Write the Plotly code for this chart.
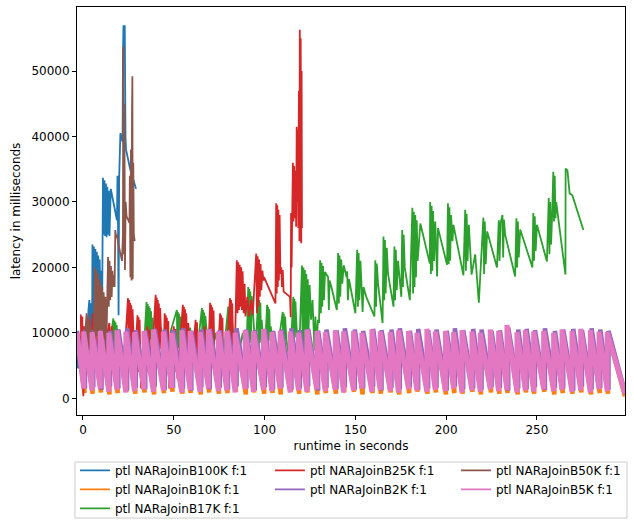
import plotly.graph_objects as go

# ---------------- data ----------------
blue_pts = [(-3.3, 9600), (-3.0, 4600), (-2.6, 9700), (-2.2, 4500), (-1.8, 9500), (-1.4, 4800), (-1.0, 9200),
            (-0.5, 5200), (0.0, 8800), (0.5, 5500), (1.0, 8000), (1.5, 6000), (2.0, 9000), (2.5, 6500),
            (3.0, 13500), (3.5, 15000), (4.0, 10000), (4.5, 14500), (5.0, 9000), (5.2, 23500), (5.6, 10500),
            (6.0, 23200), (6.4, 12000), (6.8, 22800), (7.2, 14000), (7.6, 22400), (8.0, 15000), (8.4, 21800),
            (8.8, 16500), (9.2, 21200), (9.6, 15000), (10.0, 19500), (10.5, 12000), (11.0, 33700), (11.4, 25000),
            (11.8, 33300), (12.2, 24800), (12.6, 32800), (13.0, 24600), (13.4, 32300), (13.8, 25000),
            (14.2, 31700), (14.6, 24800), (15.0, 31200), (15.3, 32000), (18.7, 27200), (19.0, 34000),
            (19.3, 26000), (19.6, 12700), (19.9, 33500), (20.2, 39500), (20.6, 40500), (21.2, 39800),
            (21.8, 39200), (22.0, 52000), (22.3, 57000), (22.7, 53000), (23.0, 57000), (23.4, 40000),
            (23.7, 38000), (26.0, 35000), (29.2, 32000)]

brown_pts = [(-0.5, 6000), (1.0, 9000), (2.0, 13000), (2.5, 7000), (3.0, 12500), (3.5, 7500), (4.0, 11000),
             (5.0, 8000), (6.0, 10000), (6.6, 20000), (7.0, 9000), (7.4, 19500), (7.8, 9500), (8.2, 19000),
             (8.6, 10000), (9.0, 18200), (9.4, 10500), (9.8, 17500), (10.2, 9500), (10.6, 17000), (11.0, 8500),
             (11.4, 16200), (11.8, 9000), (12.3, 15500), (12.8, 7000), (13.3, 14500), (13.8, 21600),
             (14.2, 14000), (14.6, 21000), (15.0, 15000), (15.4, 20200), (15.8, 15500), (16.2, 19500),
             (16.6, 17000), (17.0, 18800), (17.4, 17000), (17.8, 25700), (18.2, 24500), (18.8, 25000),
             (19.5, 23500), (20.5, 22000), (21.5, 21000), (22.0, 25000), (22.2, 53800), (22.5, 22000),
             (22.8, 45000), (23.1, 19600), (23.5, 30000), (24.0, 27800), (25.0, 27200), (25.6, 26800),
             (25.8, 34000), (26.1, 18500), (26.4, 38000), (26.7, 18000), (27.0, 44000), (27.2, 49200),
             (27.4, 18200), (27.7, 36000), (28.0, 25000), (28.5, 24000)]

red_pts = [(-1.2, 12800), (-0.8, 4000), (-0.4, 12500), (0.2, 300), (0.6, 11000), (1.2, 5500), (2.2, 12500),
           (2.8, 6000), (3.4, 12000), (4.4, 5000), (5.2, 13000), (5.8, 6500), (6.4, 12200), (7.6, 5800),
           (8.8, 11800), (10.5, 4500), (12.0, 8000), (14.5, 11500), (15.2, 6000), (15.8, 11000), (17.5, 4300),
           (19.5, 10500), (22.0, 3000),
           (24.8, 15300), (25.1, 6000), (25.4, 15000), (25.7, 6500), (26.0, 14600), (26.3, 7000), (26.6, 14200),
           (26.9, 7500), (27.3, 13600), (28.5, 5000),
           (30.0, 12700), (30.3, 4000), (30.6, 12400), (30.9, 4500), (31.2, 12000), (31.6, 5000), (32.0, 1500),
           (35.5, 11000), (36.0, 4000), (36.5, 10500), (37.5, 3000),
           (40.0, 15800), (40.3, 6000), (40.6, 15400), (40.9, 6500), (41.2, 15000), (41.5, 7000), (41.8, 14500),
           (42.1, 7500), (42.5, 13800), (44.0, 2000),
           (45.0, 13000), (45.3, 5000), (45.6, 12700), (45.9, 5500), (46.2, 12300), (46.6, 6000), (47.0, 11800),
           (47.5, 1500),
           (50.0, 11000), (50.5, 4000), (51.0, 10600), (52.0, 3000),
           (55.0, 14300), (55.3, 6000), (55.6, 14000), (55.9, 6500), (56.2, 13600), (56.5, 7000), (56.9, 13000),
           (57.3, 7500), (58.0, 11500), (59.5, 2000),
           (62.0, 12000), (62.4, 5000), (62.8, 11600), (63.2, 5500), (64.0, 3500),
           (67.0, 11000), (67.5, 4000), (68.5, 2500),
           (70.0, 14600), (70.3, 6000), (70.6, 14300), (70.9, 6500), (71.2, 13900), (71.5, 7000), (71.9, 13400),
           (72.3, 8000), (73.5, 2000),
           (75.5, 13000), (75.8, 5000), (76.1, 12700), (76.4, 5500), (76.8, 12300), (77.2, 6000), (78.0, 3000),
           (81.0, 15300), (81.3, 6000), (81.6, 15000), (81.9, 6500), (82.2, 14500), (82.6, 7000), (83.2, 1500),
           (84.7, 21100), (85.1, 13000), (85.5, 20800), (85.9, 13500), (86.3, 20400), (86.7, 14000),
           (87.1, 20000), (87.5, 13500), (87.9, 19400), (88.5, 13000), (89.0, 17500), (89.5, 12500),
           (90.5, 15500), (91.5, 12500), (92.5, 15000), (93.5, 12800), (95.4, 22100), (95.8, 13000),
           (96.2, 21700), (96.6, 14000), (97.0, 21200), (97.4, 15500), (97.8, 20500), (98.2, 16500),
           (98.8, 19500), (99.4, 18000), (99.7, 18500), (106.0, 14500), (106.4, 29800), (106.7, 16000),
           (107.0, 29500), (107.3, 17000), (107.6, 28800), (107.9, 18000), (108.3, 28000), (108.7, 19000),
           (109.2, 20000), (109.6, 17000), (110.0, 19600), (110.5, 16300), (114.0, 15500), (114.4, 12400),
           (114.6, 28300), (114.9, 20000), (115.2, 27500), (115.6, 36000), (115.9, 27000), (116.3, 35500),
           (116.7, 27500), (117.0, 34800), (117.4, 26200), (117.7, 41500), (118.0, 30000), (118.3, 41000),
           (118.6, 26000), (118.9, 47000), (119.2, 24000), (119.4, 56300), (119.7, 30000), (119.9, 55000),
           (120.2, 23700), (120.4, 50000), (120.6, 26000)]

green_pts = [(-1.0, 6000), (1.0, 10000), (3.0, 5000), (5.5, 10500), (8.0, 5000), (10.5, 11000), (13.5, 5500),
             (16.7, 12200), (17.0, 7000), (17.3, 11900), (17.6, 7500), (17.9, 11600), (18.2, 7800), (18.5, 11200),
             (19.5, 8400), (21.5, 6000), (24.0, 10000), (27.0, 5000), (30.0, 10500), (33.0, 5000),
             (35.0, 14700), (35.3, 8000), (35.6, 14400), (35.9, 8300), (36.2, 14100), (36.5, 8600), (36.8, 13800),
             (37.1, 9000), (37.5, 13300), (37.9, 9300), (38.3, 12300),
             (40.0, 6000), (43.0, 10800), (46.0, 4000), (48.5, 10500),
             (51.7, 13500), (52.0, 7500), (52.3, 13200), (52.6, 7700), (52.9, 12900), (53.2, 8000), (53.5, 12500),
             (53.8, 11500), (56.0, 5000), (59.0, 10800), (62.0, 5000),
             (65.5, 13800), (65.8, 8000), (66.1, 13500), (66.4, 7600), (66.7, 13100), (67.0, 7400), (67.4, 12600),
             (67.8, 11200), (70.0, 5000), (73.0, 10000), (76.5, 4000),
             (80.0, 14000), (80.3, 8000), (80.6, 13700), (80.9, 8300), (81.2, 13300), (81.5, 8500), (81.9, 12800),
             (82.3, 11000), (84.5, 5000), (88.0, 10000), (90.0, 6000),
             (91.0, 17000), (91.3, 8000), (91.6, 16700), (91.9, 8500), (92.2, 16300), (92.5, 9000), (92.9, 15600),
             (93.3, 14500), (95.0, 7000),
             (96.5, 15300), (96.8, 8000), (97.1, 15000), (97.4, 8500), (97.7, 14600), (98.0, 9000), (98.4, 12000),
             (100.0, 6000),
             (101.4, 14300), (101.7, 8500), (102.0, 14000), (102.3, 8800), (102.6, 13600), (103.0, 9500),
             (103.4, 11000), (106.0, 5000),
             (110.0, 13200), (110.3, 8000), (110.6, 12900), (110.9, 8500), (111.3, 12500), (112.0, 9000),
             (114.0, 5000),
             (115.8, 15500), (116.1, 9000), (116.4, 15200), (116.7, 9300), (117.0, 14800), (117.6, 11000),
             (119.0, 6000),
             (120.6, 20300), (121.0, 6500), (121.4, 20000), (121.8, 7000), (122.2, 19600), (122.6, 8000),
             (123.0, 19000), (123.4, 9000), (123.8, 18200), (124.2, 10000), (124.8, 17300), (125.6, 12000),
             (126.4, 15000), (127.5, 7300), (128.0, 12500), (128.6, 8000), (129.4, 12000), (130.0, 11500),
             (130.6, 21100), (131.0, 13000), (131.4, 20700), (131.8, 14000), (132.2, 20200), (132.7, 15000),
             (133.3, 19300), (135.0, 18500), (135.4, 13500), (135.8, 18000), (136.8, 17000), (139.8, 13500),
             (140.5, 22200), (140.9, 14500), (141.3, 21800), (141.7, 15500), (142.2, 21200), (142.8, 17500),
             (143.6, 20300), (145.2, 18500), (145.5, 19400), (145.9, 15000), (146.5, 18200), (150.0, 13000),
             (151.0, 22700), (151.4, 14000), (151.8, 22200), (152.2, 15000), (152.8, 21000), (154.0, 13200),
             (154.5, 17000), (156.0, 15500), (160.5, 12500),
             (161.0, 21100), (161.4, 14000), (161.8, 20600), (162.5, 17500), (165.0, 11500),
             (165.5, 24700), (165.9, 15000), (166.3, 24200), (166.7, 16000), (167.3, 23000), (168.0, 19000),
             (171.0, 14000), (171.5, 23200), (171.9, 15000), (172.3, 22700), (172.8, 16500), (173.5, 21000),
             (175.3, 15500), (175.8, 25700), (176.2, 17000), (176.6, 25000), (177.2, 20000), (180.0, 15000),
             (181.4, 29100), (181.8, 16000), (182.2, 28500), (182.6, 17000), (183.0, 28000), (183.4, 18500),
             (183.8, 27200), (184.3, 21000), (185.8, 26700), (191.0, 20600),
             (191.2, 30000), (191.6, 19000), (192.0, 29400), (192.4, 19500), (192.8, 28600), (193.3, 21000),
             (194.0, 27000), (195.0, 18600), (195.5, 26000), (200.5, 20400),
             (201.0, 29800), (201.4, 20500), (201.8, 29200), (202.2, 21000), (202.7, 28000), (203.5, 24000),
             (204.0, 26500), (209.5, 18800), (210.5, 28800), (210.9, 19500), (211.3, 28200), (211.8, 21000),
             (212.5, 26500), (214.0, 18900), (216.0, 22000), (218.0, 14600),
             (220.5, 27600), (220.9, 19000), (221.3, 27000), (221.8, 20500), (222.6, 25500), (228.0, 20000),
             (229.0, 27200), (229.4, 21000), (230.0, 26800), (231.0, 28000), (231.4, 21500), (231.8, 27300),
             (232.5, 25000), (238.0, 18600), (238.7, 27500), (239.1, 20000), (239.5, 27000), (240.0, 21500),
             (240.8, 25800), (247.5, 20000), (248.0, 28300), (248.4, 21000), (248.8, 27800), (249.3, 22500),
             (250.0, 26500), (255.5, 20900), (256.5, 30600), (256.9, 22000), (257.3, 30000), (257.8, 23500),
             (258.5, 29000), (259.0, 34600), (259.4, 27000), (259.8, 34000), (260.2, 27500), (260.6, 30000),
             (265.7, 18900), (265.8, 35100), (266.8, 34800), (267.5, 33000), (268.0, 31300), (269.5, 31000),
             (275.6, 25700)]

# dense sawtooth series: tooth start time, peak at start, trough reached at the next start
pink_starts = [-3.3, 0.4, 5.0, 9.5, 14.2, 18.7, 23.6, 28.4, 33.6, 38.8,
               44.3, 48.9, 54.4, 59.0, 64.5, 69.1, 74.6, 79.2, 83.8, 89.3,
               93.9, 99.4, 104.0, 108.6, 114.1, 118.7, 123.3, 128.8, 133.4, 138.9,
               143.5, 149.0, 153.6, 159.1, 163.7, 169.2, 173.8, 179.3, 183.9, 189.4,
               194.0, 199.6, 204.1, 208.7, 214.2, 218.8, 224.3, 228.9, 233.5, 239.0,
               243.6, 248.2, 253.7, 259.2, 263.8, 269.3, 274.1, 279.4, 284.2, 288.7]
pink_peaks = [10000, 10200, 10100, 10300, 10000, 10400, 10200, 10100, 10300, 10500,
              10200, 10000, 10400, 10300, 10100, 10500, 10200, 10300, 10000, 10400,
              10200, 10600, 10100, 10300, 10200, 10000, 10500, 10300, 10100, 10400,
              10200, 10300, 10000, 10500, 10200, 10100, 10400, 10300, 10000, 10600,
              10200, 10300, 10100, 10400, 10200, 10000, 10500, 10300, 11200, 10100,
              10400, 10200, 10300, 10000, 10500, 10300, 10600, 10400, 10200, 10100]
pink_troughs = [1500, 1200, 1500, 1000, 1300, 900, 1100, 1400, 1000, 1200,
                1600, 900, 1300, 1000, 1500, 1100, 1200, 900, 1400, 1000,
                1300, 1100, 1500, 900, 1200, 1000, 1400, 1100, 1300, 900,
                1200, 1500, 1000, 1300, 1100, 900, 1400, 1200, 1000, 1300,
                1100, 1500, 900, 1200, 1000, 1400, 1100, 1300, 900, 1200,
                1000, 1400, 1100, 1300, 1000, 1200, 900, 1400, 1100, 700]

orange_starts = [-3.3, 0.8, 5.3, 9.9, 14.6, 19.1, 23.9, 28.8, 33.9, 39.2,
                 44.6, 49.3, 54.8, 59.3, 64.9, 69.5, 74.9, 79.6, 84.2, 89.7,
                 94.2, 99.8, 104.4, 108.9, 114.5, 119.1, 123.7, 129.1, 133.8, 139.3,
                 143.9, 149.3, 154.0, 159.5, 164.1, 169.5, 174.2, 179.7, 184.3, 189.7,
                 194.4, 199.9, 204.5, 209.1, 214.5, 219.2, 224.7, 229.3, 233.8, 239.4,
                 244.0, 248.5, 254.1, 259.6, 264.2, 269.6, 274.5, 279.8, 284.6, 289.1]
orange_peaks = [9800, 9900, 10000, 9700, 9900, 10100, 9800, 10000, 9900, 10200,
                9900, 9800, 10100, 10000, 9700, 10200, 9900, 10000, 9800, 10100,
                9900, 10300, 9800, 10000, 9900, 9700, 10200, 10000, 9800, 10100,
                9900, 10000, 9700, 10200, 9900, 9800, 10100, 10000, 9700, 10300,
                9900, 10000, 9800, 10100, 9900, 9700, 10200, 10000, 10600, 9800,
                10100, 9900, 10000, 9700, 10200, 10000, 10300, 10100, 9900, 9800]
orange_troughs = [800, 700, 900, 600, 800, 1000, 700, 900, 600, 800,
                  1000, 700, 800, 600, 900, 700, 800, 1000, 600, 900,
                  700, 800, 600, 1000, 700, 900, 600, 800, 700, 900,
                  1000, 600, 800, 700, 900, 600, 800, 1000, 700, 900,
                  600, 800, 700, 1000, 600, 900, 700, 800, 600, 900,
                  700, 1000, 600, 800, 700, 900, 600, 800, 700, 300]

purple_starts = [-3.3, 1.1, 5.7, 10.2, 14.9, 19.5, 24.3, 29.1, 34.3, 39.5,
                 45.0, 49.6, 55.1, 59.7, 65.2, 69.8, 75.3, 79.9, 84.6, 90.0,
                 94.6, 100.1, 104.7, 109.3, 114.8, 119.4, 124.0, 129.5, 134.1, 139.6,
                 144.2, 149.7, 154.3, 159.8, 164.4, 169.9, 174.5, 180.0, 184.6, 190.1,
                 194.7, 200.3, 204.8, 209.4, 214.9, 219.5, 225.0, 229.6, 234.2, 239.7,
                 244.3, 248.9, 254.4, 259.9, 264.5, 270.0, 274.8, 280.1, 284.9, 289.4]
purple_peaks = [10300, 10500, 10400, 10600, 10300, 10500, 10700, 10400, 10300, 10600,
                10500, 10400, 10700, 10300, 10500, 10600, 10400, 10300, 10700, 10500,
                10400, 10600, 10300, 10500, 10700, 10400, 10600, 10300, 10500, 10400,
                10700, 10500, 10300, 10600, 10400, 10500, 10700, 10300, 10600, 10400,
                10500, 10300, 10700, 10400, 10600, 10500, 10300, 10400, 10800, 10500,
                10600, 10400, 10700, 10300, 10500, 10600, 10400, 10700, 10500, 10300]
purple_troughs = [1500, 1700, 1300, 1800, 1500, 1200, 1600, 1400, 1800, 1300,
                  1600, 1500, 1200, 1700, 1400, 1600, 1300, 1800, 1500, 1200,
                  1700, 1400, 1600, 1300, 1500, 1800, 1200, 1600, 1400, 1700,
                  1300, 1500, 1800, 1200, 1600, 1400, 1700, 1300, 1500, 1600,
                  1200, 1800, 1400, 1500, 1300, 1700, 1600, 1200, 1500, 1400,
                  1700, 1300, 1600, 1500, 1200, 1800, 1400, 1600, 1300, 900]
dense_end = 298.5

labels = ["ptl NARaJoinB100K f:1", "ptl NARaJoinB10K f:1", "ptl NARaJoinB17K f:1",
          "ptl NARaJoinB25K f:1", "ptl NARaJoinB2K f:1", "ptl NARaJoinB50K f:1", "ptl NARaJoinB5K f:1"]
colors = ["#1f77b4", "#ff7f0e", "#2ca02c", "#d62728", "#9467bd", "#8c564b", "#e377c2"]
legend_cols = ["legend", "legend", "legend", "legend2", "legend2", "legend3", "legend3"]
x_ticks = [0, 50, 100, 150, 200, 250]
y_ticks = [0, 10000, 20000, 30000, 40000, 50000]


def saw(starts, peaks, troughs, end):
    xs, ys = [], []
    nxt = list(starts[1:]) + [end]
    for s, p, q, e in zip(starts, peaks, troughs, nxt):
        xs += [s, e]
        ys += [p, q]
    return xs, ys


def unpack(pts):
    return [p[0] for p in pts], [p[1] for p in pts]


series = [
    unpack(blue_pts),
    saw(orange_starts, orange_peaks, orange_troughs, dense_end),
    unpack(green_pts),
    unpack(red_pts),
    saw(purple_starts, purple_peaks, purple_troughs, dense_end),
    unpack(brown_pts),
    saw(pink_starts, pink_peaks, pink_troughs, dense_end),
]
widths = [1.8, 4.5, 1.8, 1.8, 4.5, 1.8, 5.0]

fig = go.Figure()
for (xs, ys), c, w in zip(series, colors, widths):
    fig.add_trace(go.Scatter(x=xs, y=ys, mode="lines", line=dict(color=c, width=w),
                             showlegend=False, hoverinfo="skip"))
# legend keys (thin lines like the reference)
for name, c, lg in zip(labels, colors, legend_cols):
    fig.add_trace(go.Scatter(x=[None], y=[None], mode="lines", name=name,
                             line=dict(color=c, width=1.8), legend=lg))

font = dict(family="DejaVu Sans", size=12, color="black")
leg = dict(orientation="v", xanchor="left", yanchor="top", y=-0.1, bgcolor="rgba(0,0,0,0)",
           borderwidth=0, font=font, tracegroupgap=0, itemwidth=30)

fig.update_layout(
    width=634, height=521,
    margin=dict(l=77, r=9, t=7, b=106, autoexpand=False),
    paper_bgcolor="white", plot_bgcolor="white",
    font=font,
    legend=dict(leg, x=-0.0037),
    legend2=dict(leg, x=0.352),
    legend3=dict(leg, x=0.6916),
    shapes=[dict(type="rect", xref="paper", yref="paper", x0=-0.0037, x1=1.0036, y0=-0.2525, y1=-0.1152,
                 line=dict(color="#cccccc", width=1), fillcolor="rgba(255,255,255,0)", layer="below")],
)
axis_common = dict(showgrid=False, zeroline=False, showline=True, linecolor="black", linewidth=1,
                   mirror=True, ticks="outside", ticklen=4, tickwidth=1, tickcolor="black",
                   tickfont=font)
fig.update_xaxes(axis_common, range=[-3.3, 298.5], tickvals=x_ticks,
                 title=dict(text="runtime in seconds", font=font, standoff=5))
fig.update_yaxes(axis_common, range=[-2550, 59780], tickvals=y_ticks, tickformat="d",
                 title=dict(text="latency in milliseconds", font=font, standoff=8))

# the page body has a default 8px margin; remove it so the figure sits at the window origin
fig.write_html("out.html", config={"displayModeBar": False},
               post_script="document.body.style.margin='0';")
